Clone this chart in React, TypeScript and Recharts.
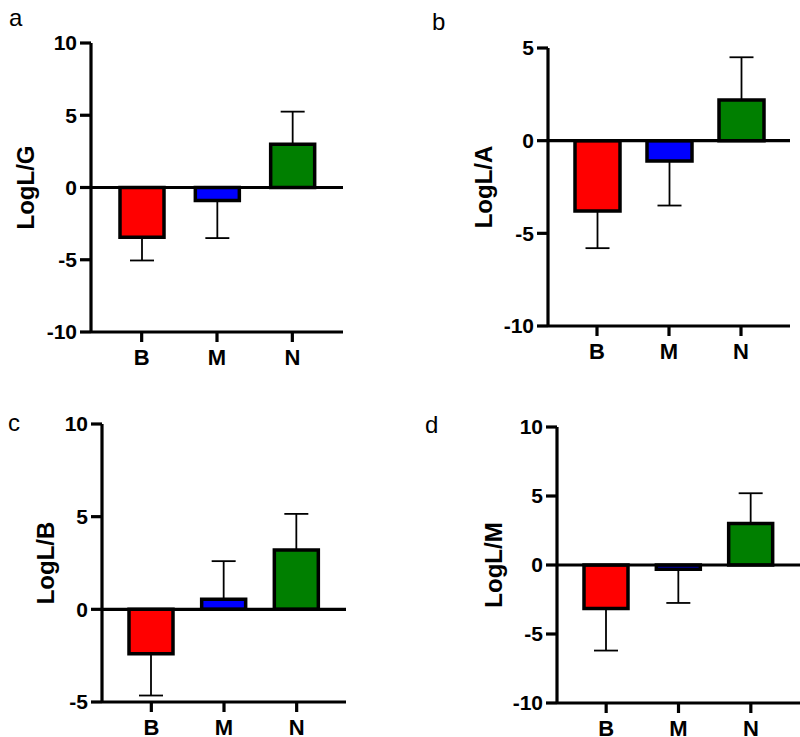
import React from 'react';
import { BarChart, Bar, XAxis, YAxis, ErrorBar, ReferenceLine, Cell } from 'recharts';

const categories = ['B', 'M', 'N'];
const barColors = ['#ff0000', '#0000ff', '#007f00'];

const valuesA = [-3.45, -0.9, 3.0];
const errorsA = [1.6, 2.6, 2.25];
const valuesB = [-3.8, -1.1, 2.2];
const errorsB = [2.0, 2.4, 2.3];
const valuesC = [-2.4, 0.55, 3.2];
const errorsC = [2.25, 2.05, 1.95];
const valuesD = [-3.15, -0.3, 3.0];
const errorsD = [3.05, 2.45, 2.2];

const ticksA = [-10, -5, 0, 5, 10];
const ticksB = [-10, -5, 0, 5];
const ticksC = [-5, 0, 5, 10];
const ticksD = [-10, -5, 0, 5, 10];

const FONT = '"Liberation Sans", Arial, sans-serif';

function buildData(values: number[], errors: number[]) {
  return categories.map((c, i) => ({
    cat: c,
    value: values[i],
    err: values[i] < 0 ? [errors[i], 0] : [0, errors[i]],
  }));
}

type PanelProps = {
  letter: string;
  letterPos: { left: number; top: number };
  left: number;
  top: number;
  width: number;
  height: number;
  margin: { top: number; right: number; bottom: number; left: number };
  yAxisWidth: number;
  xAxisHeight: number;
  ticks: number[];
  values: number[];
  errors: number[];
  label: string;
  labelOffset: number;
  barSize: number;
};

function Panel(p: PanelProps) {
  const data = buildData(p.values, p.errors);
  const domain: [number, number] = [p.ticks[0], p.ticks[p.ticks.length - 1]];
  return (
    <>
      <div
        style={{
          position: 'absolute',
          left: p.letterPos.left,
          top: p.letterPos.top,
          fontFamily: FONT,
          fontSize: 24,
          lineHeight: '24px',
          color: '#000',
        }}
      >
        {p.letter}
      </div>
      <div style={{ position: 'absolute', left: p.left, top: p.top, width: p.width, height: p.height }}>
        <BarChart width={p.width} height={p.height} data={data} margin={p.margin}>
          <XAxis
            dataKey="cat"
            height={p.xAxisHeight}
            padding={{ left: 13, right: 13 }}
            axisLine={{ stroke: '#000', strokeWidth: 3.2 }}
            tickLine={{ stroke: '#000', strokeWidth: 3.2 }}
            tickSize={10}
            tickMargin={7}
            tick={{ fill: '#000', fontSize: 22, fontWeight: 'bold', fontFamily: FONT }}
            interval={0}
          />
          <YAxis
            type="number"
            width={p.yAxisWidth}
            domain={domain}
            ticks={p.ticks}
            interval={0}
            allowDataOverflow
            axisLine={{ stroke: '#000', strokeWidth: 3.2 }}
            tickLine={{ stroke: '#000', strokeWidth: 3.2 }}
            tickSize={11}
            tickMargin={3}
            tick={{ fill: '#000', fontSize: 21, fontWeight: 'bold', fontFamily: FONT }}
            label={{
              value: p.label,
              angle: -90,
              position: 'insideLeft',
              offset: p.labelOffset,
              style: { textAnchor: 'middle', fontSize: 24, fontWeight: 'bold', fill: '#000', fontFamily: FONT },
            }}
          />
          <Bar dataKey="value" barSize={p.barSize} stroke="#000" strokeWidth={3.5} isAnimationActive={false}>
            {data.map((d, i) => (
              <Cell key={d.cat} fill={barColors[i]} />
            ))}
            <ErrorBar dataKey="err" direction="y" width={12} stroke="#000" strokeWidth={1.8} isAnimationActive={false} />
          </Bar>
          <ReferenceLine y={0} stroke="#000" strokeWidth={3.2} />
        </BarChart>
      </div>
    </>
  );
}

export default function App() {
  return (
    <div style={{ position: 'absolute', left: 0, top: 0, width: 800, height: 737, background: '#fff', overflow: 'hidden' }}>
      <Panel
        letter="a"
        letterPos={{ left: 9, top: 6 }}
        left={0}
        top={0}
        width={400}
        height={370}
        margin={{ top: 43, right: 57, bottom: 0, left: 0 }}
        yAxisWidth={91}
        xAxisHeight={38}
        ticks={ticksA}
        values={valuesA}
        errors={errorsA}
        label="LogL/G"
        labelOffset={25}
        barSize={44}
      />
      <Panel
        letter="b"
        letterPos={{ left: 432, top: 10 }}
        left={400}
        top={0}
        width={400}
        height={370}
        margin={{ top: 48, right: 10, bottom: 0, left: 0 }}
        yAxisWidth={148}
        xAxisHeight={44}
        ticks={ticksB}
        values={valuesB}
        errors={errorsB}
        label="LogL/A"
        labelOffset={83}
        barSize={45}
      />
      <Panel
        letter="c"
        letterPos={{ left: 8, top: 411 }}
        left={0}
        top={370}
        width={400}
        height={367}
        margin={{ top: 54, right: 54, bottom: 0, left: 0 }}
        yAxisWidth={102}
        xAxisHeight={35}
        ticks={ticksC}
        values={valuesC}
        errors={errorsC}
        label="LogL/B"
        labelOffset={45}
        barSize={44}
      />
      <Panel
        letter="d"
        letterPos={{ left: 425, top: 413 }}
        left={400}
        top={370}
        width={400}
        height={367}
        margin={{ top: 57, right: 0, bottom: 0, left: 0 }}
        yAxisWidth={157}
        xAxisHeight={34}
        ticks={ticksD}
        values={valuesD}
        errors={errorsD}
        label="LogL/M"
        labelOffset={93}
        barSize={44}
      />
    </div>
  );
}
